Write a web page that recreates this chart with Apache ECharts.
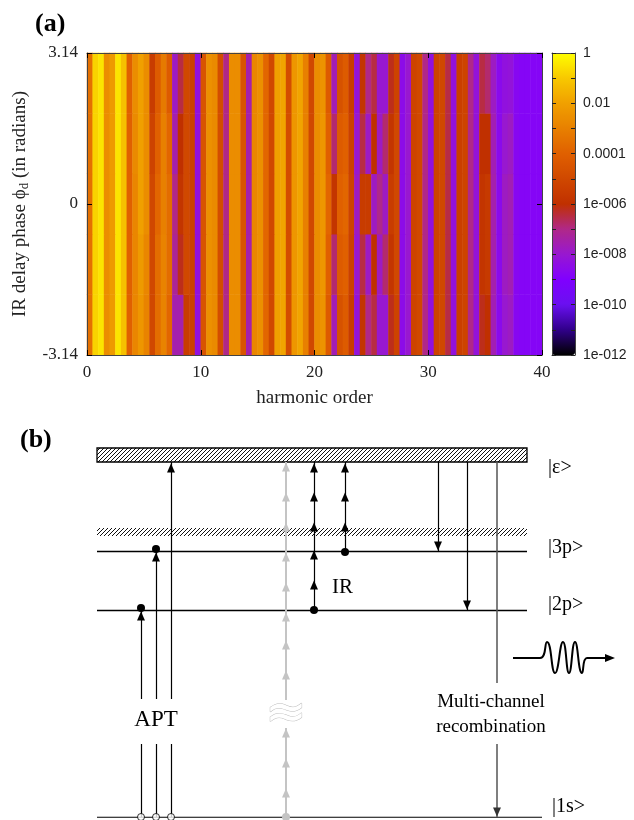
<!DOCTYPE html>
<html>
<head>
<meta charset="utf-8">
<script src="https://cdn.jsdelivr.net/npm/echarts@6/dist/echarts.min.js"></script>
<style>
html, body { margin: 0; padding: 0; background: #fff; }
#chart { width: 634px; height: 820px; }
</style>
</head>
<body>
<div id="chart"></div>
<script>
// ---- panel (a): log10 of harmonic yield, cells of 0.5 harmonic order ----
const harmonicCells = [];
for (let k = 0; k < 80; k++) harmonicCells.push(String(k * 0.5 + 0.25));
const phaseRows = ['-2.51', '-1.26', '0', '1.26', '2.51'];

const rowBottom = [
  -3.5,-0.8,-0.5,-2.6,-2.2,-0.5,-1.2,-4.0,-2.8,-2.3,
  -2.9,-5.0,-3.6,-2.9,-3.8,-7.5,-7.5,-5.5,-5.3,-8.3,
  -4.5,-2.5,-2.7,-4.8,-7.0,-2.6,-2.6,-4.5,-7.5,-2.8,
  -2.5,-3.8,-5.0,-2.0,-1.9,-4.8,-2.3,-1.9,-3.0,-5.0,
  -2.6,-2.4,-4.2,-7.6,-4.6,-4.2,-5.5,-8.2,-5.8,-7.0,
  -6.5,-8.0,-8.0,-6.2,-5.2,-8.5,-8.0,-5.2,-5.0,-7.0,
  -8.3,-5.2,-5.0,-6.5,-8.3,-5.4,-5.2,-7.0,-8.2,-6.2,
  -6.0,-7.6,-8.6,-8.0,-7.8,-8.7,-8.8,-8.8,-8.8,-8.8];
const rowLower = [
  -3.5,-0.8,-0.5,-2.6,-2.2,-0.5,-1.2,-4.0,-2.8,-2.2,
  -2.8,-5.0,-3.6,-2.9,-3.6,-7.2,-6.2,-5.0,-5.3,-8.3,
  -4.5,-2.5,-2.7,-4.8,-7.0,-2.6,-2.6,-4.5,-7.5,-2.8,
  -2.5,-3.8,-5.0,-2.0,-1.9,-4.8,-2.3,-1.9,-3.0,-5.0,
  -2.6,-2.3,-4.0,-6.8,-4.2,-4.0,-5.3,-8.0,-6.5,-7.8,
  -6.0,-7.8,-6.8,-5.8,-5.0,-8.5,-8.0,-5.2,-5.0,-7.0,
  -8.3,-5.2,-5.0,-6.5,-8.3,-5.4,-5.2,-7.0,-8.2,-5.8,
  -5.6,-7.5,-8.6,-7.8,-7.6,-8.7,-8.8,-8.8,-8.8,-8.8];
const rowMid = [
  -3.5,-0.8,-0.5,-2.6,-2.2,-0.5,-1.2,-4.0,-2.8,-2.0,
  -2.6,-5.0,-3.8,-3.0,-3.6,-7.0,-5.8,-5.0,-5.3,-8.3,
  -4.5,-2.5,-2.7,-4.8,-7.0,-2.6,-2.6,-4.5,-7.5,-2.8,
  -2.5,-3.8,-5.0,-2.0,-1.9,-4.8,-2.3,-1.9,-3.0,-5.0,
  -2.6,-2.3,-3.8,-5.8,-4.0,-3.8,-5.2,-7.8,-5.5,-5.5,
  -7.8,-7.0,-7.8,-5.5,-5.0,-8.5,-8.0,-5.2,-5.0,-7.0,
  -8.3,-5.2,-5.0,-6.5,-8.3,-5.4,-5.2,-7.0,-8.2,-5.8,
  -5.6,-7.5,-8.6,-7.8,-7.6,-8.7,-8.8,-8.8,-8.8,-8.8];
const rowUpper = [
  -3.5,-0.8,-0.5,-2.6,-2.2,-0.5,-1.2,-4.0,-2.7,-2.0,
  -2.6,-5.2,-4.0,-3.0,-3.8,-7.5,-6.0,-5.0,-5.3,-8.3,
  -4.5,-2.5,-2.7,-4.8,-7.0,-2.6,-2.6,-4.5,-7.5,-2.8,
  -2.5,-3.8,-5.0,-2.0,-1.9,-4.8,-2.3,-1.9,-3.0,-5.0,
  -2.6,-2.3,-4.0,-6.8,-4.2,-4.0,-5.3,-8.0,-6.5,-7.8,
  -6.0,-7.8,-6.8,-5.8,-5.0,-8.5,-8.0,-5.2,-5.0,-7.0,
  -8.3,-5.2,-5.0,-6.5,-8.3,-5.4,-5.2,-7.0,-8.2,-6.0,
  -6.0,-7.6,-8.6,-8.0,-7.8,-8.7,-8.8,-8.8,-8.8,-8.8];
const rowTop = [
  -3.5,-0.8,-0.5,-2.6,-2.2,-0.5,-1.2,-4.0,-2.6,-2.0,
  -2.6,-5.5,-4.2,-3.2,-4.2,-7.8,-6.5,-5.0,-5.3,-8.3,
  -4.5,-2.5,-2.7,-4.8,-7.0,-2.6,-2.6,-4.5,-7.5,-2.8,
  -2.5,-3.8,-5.0,-2.0,-1.9,-4.8,-2.3,-1.9,-3.0,-5.0,
  -2.6,-2.4,-4.2,-7.6,-4.6,-4.2,-5.5,-8.2,-5.8,-7.0,
  -6.5,-8.0,-8.0,-6.2,-5.2,-8.5,-8.0,-5.2,-5.0,-7.0,
  -8.3,-5.2,-5.0,-6.5,-8.3,-5.4,-5.2,-7.0,-8.2,-6.5,
  -6.8,-7.8,-8.6,-8.3,-8.2,-8.7,-8.8,-8.8,-8.8,-8.8];

const cbLabels = { '0': '1', '-2': '0.01', '-4': '0.0001', '-6': '1e-006', '-8': '1e-008', '-10': '1e-010', '-12': '1e-012' };
const cmapColors = ['#000000', '#30008a', '#6a10f0', '#8000ff', '#9818d0', '#b02888', '#c03000',
  '#d04800', '#e06000', '#e88000', '#f0a000', '#f8c800', '#ffff00'];

// ---- panel (b): level scheme, x in arbitrary units, y in energy units ----
const levelLines = [[0, 44.5, 0], [0, 43, 20.7], [0, 43, 26.6]];           // x0, x1, E
const bands = [[0, 43, 35.5, 36.9, 1], [0, 43, 28.1, 28.9, 0]];            // x0, x1, E0, E1, boxed
const blackLines = [[4.4, 0, 7.3], [4.4, 11.8, 20.7], [5.9, 0, 7.3], [5.9, 11.8, 26.6],
  [7.4, 0, 7.3], [7.4, 11.8, 35.5], [21.7, 20.7, 35.5], [24.8, 26.6, 35.5],
  [34.1, 35.5, 26.6], [37.0, 35.5, 20.7]];                                  // x, E0, E1
const grayLines = [[18.9, 0, 8.9], [18.9, 11.7, 35.5]];
const recombLines = [[40.0, 35.5, 13.4], [40.0, 7.3, 0]];
const upHeads = [[4.4, 20.1], [5.9, 26.0], [7.4, 34.9], [21.7, 23.2], [21.7, 26.2], [21.7, 29.0],
  [21.7, 32.0], [21.7, 34.9], [24.8, 29.0], [24.8, 32.0], [24.8, 34.9]];
const grayHeads = [[18.9, 2.4], [18.9, 5.4], [18.9, 8.4], [18.9, 14.2], [18.9, 17.2], [18.9, 20.0],
  [18.9, 23.0], [18.9, 26.0], [18.9, 29.0], [18.9, 32.0], [18.9, 35.0]];
const downHeads = [[34.1, 27.1], [37.0, 21.2]];
const recombHead = [[40.0, 0.5]];
const dots = [[4.4, 20.9], [5.9, 26.8], [21.7, 20.7], [24.8, 26.5]];
const grayDots = [[18.9, 0]];
const openDots = [[4.4, 0], [5.9, 0], [7.4, 0]];
const wave = [[41.6, 15.9], [44.3, 15.9], [45.0, 17.5], [45.8, 14.4], [46.6, 17.5], [47.2, 14.4],
  [47.8, 17.5], [48.5, 14.4], [49.0, 15.9], [51.0, 15.9]];
const waveHead = [[51.3, 15.9]];
const stateLabels = [['|ε>', 45.1, 34.9], ['|3p>', 45.1, 26.9], ['|2p>', 45.1, 21.2], ['|1s>', 45.5, 1.0]];
const irLabel = [['IR', 23.5, 23.0]];
const aptLabel = [['APT', 5.9, 9.7]];
const recombLabel = [['Multi-channel', 39.4, 11.5], ['recombination', 39.4, 9.0]];
const breakMark = [['≈', 18.9, 10.2]];

const serif = 'Liberation Serif';
const sans = 'Liberation Sans';

const hatch = (function () {
  const c = document.createElement('canvas');
  c.width = 4; c.height = 4;
  const g = c.getContext('2d');
  g.fillStyle = '#fff'; g.fillRect(0, 0, 4, 4);
  g.strokeStyle = '#111'; g.lineWidth = 1;
  g.beginPath();
  g.moveTo(-1, 5); g.lineTo(5, -1);
  g.moveTo(-1, 1); g.lineTo(1, -1);
  g.moveTo(3, 5); g.lineTo(5, 3);
  g.stroke();
  return c;
})();

const heatData = [];
[rowBottom, rowLower, rowMid, rowUpper, rowTop].forEach(function (row, r) {
  row.forEach(function (v, k) { heatData.push([k, r, v]); });
});

function segs(list) {
  return list.map(function (s) { return { coords: [[s[0], s[1]], [s[0], s[2]]] }; });
}

function linesSeries(data, color, width) {
  return {
    type: 'lines', coordinateSystem: 'cartesian2d', xAxisIndex: 5, yAxisIndex: 5,
    polyline: false, silent: true, z: 3, data: data,
    lineStyle: { color: color, width: width, opacity: 1 }
  };
}

function markSeries(data, symbol, size, color, rotate, extra) {
  return Object.assign({
    type: 'scatter', xAxisIndex: 5, yAxisIndex: 5, silent: true, z: 4,
    symbol: symbol, symbolSize: size, symbolRotate: rotate || 0, data: data,
    itemStyle: { color: color, opacity: 1 }
  }, extra || {});
}

function textSeries(items, font, align, fill, stroke) {
  return {
    type: 'custom', coordinateSystem: 'cartesian2d', xAxisIndex: 5, yAxisIndex: 5,
    silent: true, z: 6,
    data: items.map(function (t) { return [t[1], t[2]]; }),
    renderItem: function (params, api) {
      const p = api.coord([api.value(0), api.value(1)]);
      return {
        type: 'text', x: p[0], y: p[1],
        style: {
          text: items[params.dataIndex][0], font: font, fill: fill || '#000',
          stroke: stroke || null, lineWidth: stroke ? 1 : 0,
          align: align, verticalAlign: 'middle'
        }
      };
    }
  };
}

const myChart = echarts.init(document.getElementById('chart'));
const tickStyle = { inside: true, length: 5, lineStyle: { color: '#000' } };
const frameLine = { show: true, onZero: false, lineStyle: { color: '#444', width: 1 } };

const option = {
  animation: false,
  backgroundColor: '#fff',
  title: [
    { text: '(a)', left: 35, top: 11, padding: 0, textStyle: { fontFamily: serif, fontWeight: 'bold', fontSize: 26, color: '#000' } },
    { text: '(b)', left: 20, top: 427, padding: 0, textStyle: { fontFamily: serif, fontWeight: 'bold', fontSize: 26, color: '#000' } }
  ],
  grid: [
    { left: 87, top: 53, width: 455, height: 302 },
    { left: 552, top: 53, width: 23, height: 302 },
    { left: 97, top: 440, width: 537, height: 377 }
  ],
  visualMap: {
    type: 'continuous', min: -12, max: 0, seriesIndex: 0, calculable: false,
    itemWidth: 23, itemHeight: 302, left: 552, top: 53, padding: 0, text: null,
    hoverLink: false, inRange: { color: cmapColors }
  },
  xAxis: [
    { type: 'category', gridIndex: 0, data: harmonicCells, show: false },
    { type: 'value', gridIndex: 0, min: 0, max: 40, interval: 10, position: 'bottom', z: 10,
      axisLine: frameLine, axisTick: tickStyle, splitLine: { show: false },
      axisLabel: { fontFamily: serif, fontSize: 17, color: '#222', margin: 9 },
      name: 'harmonic order', nameLocation: 'middle', nameGap: 34,
      nameTextStyle: { fontFamily: serif, fontSize: 19, color: '#222' } },
    { type: 'value', gridIndex: 0, min: 0, max: 40, interval: 10, position: 'top', z: 10,
      axisLine: frameLine, axisTick: tickStyle, splitLine: { show: false }, axisLabel: { show: false } },
    { type: 'value', gridIndex: 1, min: 0, max: 1, position: 'bottom', z: 10,
      axisLine: frameLine, axisTick: { show: false }, splitLine: { show: false }, axisLabel: { show: false } },
    { type: 'value', gridIndex: 1, min: 0, max: 1, position: 'top', z: 10,
      axisLine: frameLine, axisTick: { show: false }, splitLine: { show: false }, axisLabel: { show: false } },
    { type: 'value', gridIndex: 2, min: 0, max: 53.7, show: false }
  ],
  yAxis: [
    { type: 'category', gridIndex: 0, data: phaseRows, show: false },
    { type: 'value', gridIndex: 0, min: -3.14, max: 3.14, interval: 3.14, position: 'left', z: 10,
      axisLine: frameLine, axisTick: tickStyle, splitLine: { show: false },
      axisLabel: { fontFamily: serif, fontSize: 17, color: '#222', margin: 9,
        formatter: function (v) { return Math.abs(v) < 1e-6 ? '0' : v.toFixed(2); } },
      name: 'IR delay phase ϕ{s|d} (in radians)', nameLocation: 'middle', nameGap: 56,
      nameTextStyle: { fontFamily: serif, fontSize: 19, color: '#222',
        rich: { s: { fontFamily: serif, fontSize: 13, color: '#222', padding: [9, 0, 0, 0] } } } },
    { type: 'value', gridIndex: 0, min: -3.14, max: 3.14, interval: 3.14, position: 'right', z: 10,
      axisLine: frameLine, axisTick: tickStyle, splitLine: { show: false }, axisLabel: { show: false } },
    { type: 'value', gridIndex: 1, min: -12, max: 0, interval: 1, position: 'right', z: 10,
      axisLine: frameLine, axisTick: { inside: true, length: 4, lineStyle: { color: '#222' } },
      splitLine: { show: false },
      axisLabel: { fontFamily: sans, fontSize: 14, color: '#222', margin: 8,
        formatter: function (v) { const s = String(Math.round(v)); return cbLabels[s] || ''; } } },
    { type: 'value', gridIndex: 1, min: -12, max: 0, interval: 1, position: 'left', z: 10,
      axisLine: frameLine, axisTick: { inside: true, length: 4, lineStyle: { color: '#222' } },
      splitLine: { show: false }, axisLabel: { show: false } },
    { type: 'value', gridIndex: 2, min: 0, max: 37.7, show: false }
  ],
  series: [
    { type: 'heatmap', xAxisIndex: 0, yAxisIndex: 0, data: heatData, silent: true,
      itemStyle: { borderWidth: 0 }, emphasis: { disabled: true } },
    { type: 'custom', coordinateSystem: 'cartesian2d', xAxisIndex: 5, yAxisIndex: 5, silent: true, z: 1,
      data: bands,
      renderItem: function (params, api) {
        const a = api.coord([api.value(0), api.value(3)]);
        const b = api.coord([api.value(1), api.value(2)]);
        return {
          type: 'rect',
          shape: { x: a[0], y: a[1], width: b[0] - a[0], height: b[1] - a[1] },
          style: { fill: { image: hatch, repeat: 'repeat' },
            stroke: api.value(4) ? '#000' : null, lineWidth: 1.3 }
        };
      } },
    linesSeries(levelLines.map(function (l) { return { coords: [[l[0], l[2]], [l[1], l[2]]] }; }), '#000', 1.3),
    linesSeries(segs(blackLines), '#000', 1.2),
    linesSeries(segs(grayLines), '#c4c4c4', 2),
    linesSeries(segs(recombLines), '#555', 1.5),
    { type: 'line', xAxisIndex: 5, yAxisIndex: 5, data: wave, smooth: 0.5, showSymbol: false,
      silent: true, z: 3, lineStyle: { color: '#000', width: 2 } },
    markSeries(upHeads, 'triangle', [8, 9], '#000'),
    markSeries(grayHeads, 'triangle', [8, 9], '#c4c4c4'),
    markSeries(downHeads, 'triangle', [8, 9], '#000', 180),
    markSeries(recombHead, 'triangle', [8, 9], '#333', 180),
    markSeries(waveHead, 'triangle', [8, 10], '#000', -90),
    markSeries(dots, 'circle', 8, '#000'),
    markSeries(grayDots, 'circle', 8, '#c4c4c4'),
    markSeries(openDots, 'circle', 7, '#fff', 0, { itemStyle: { color: '#fff', borderColor: '#000', borderWidth: 1 } }),
    textSeries(stateLabels, '20px "Liberation Serif"', 'left'),
    textSeries(irLabel, '21px "Liberation Serif"', 'left'),
    textSeries(aptLabel, '23px "Liberation Serif"', 'center'),
    textSeries(recombLabel, '19px "Liberation Serif"', 'center'),
    textSeries(breakMark, '50px "DejaVu Sans"', 'center', '#fff', '#bdbdbd')
  ]
};

option && myChart.setOption(option);
</script>
</body>
</html>
